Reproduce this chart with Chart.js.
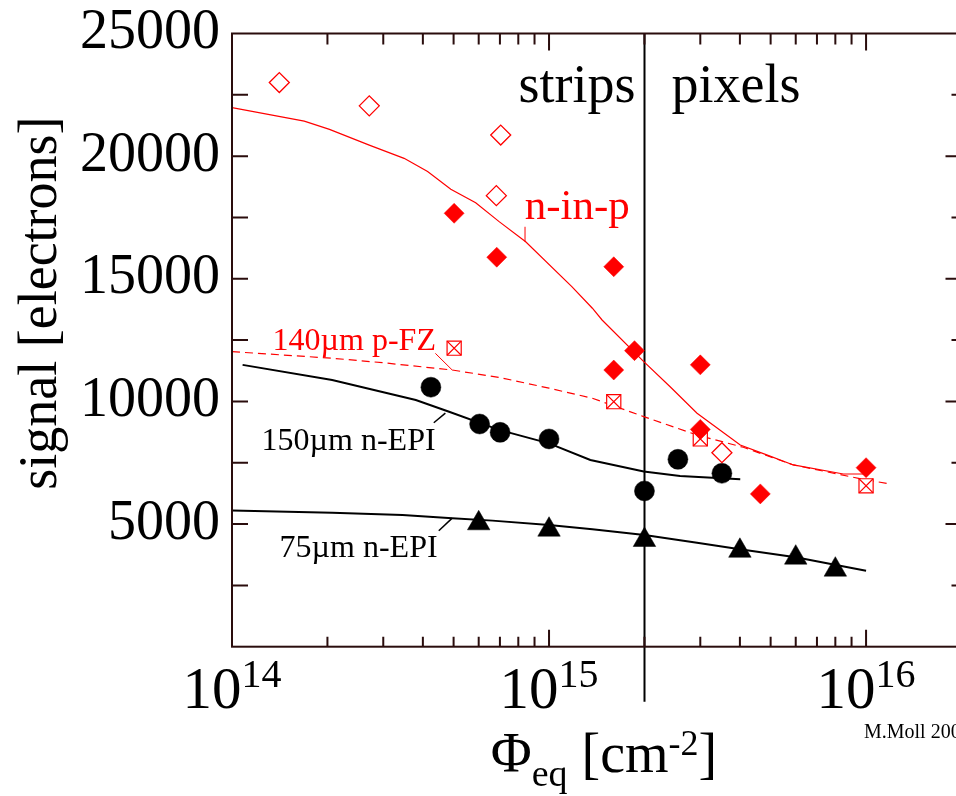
<!DOCTYPE html>
<html>
<head>
<meta charset="utf-8">
<script src="https://cdn.jsdelivr.net/npm/chart.js@4/dist/chart.umd.min.js"></script>
<style>
  html, body { margin: 0; padding: 0; overflow: hidden; background: #ffffff; }
  canvas { display: block; }
</style>
</head>
<body>
<canvas id="c" width="1000" height="796"></canvas>
<script>
// Fluence in cm^-2, signal in electrons.
// n-in-p, open symbols
const ninpOpenPhi = [1.41e14, 2.71e14, 7.04e14, 6.82e14, 3.51e15];
const ninpOpenSig = [23000, 22050, 20860, 18390, 7910];
// n-in-p, filled symbols
const ninpPhi = [5.02e14, 6.84e14, 1.6e15, 1.6e15, 1.86e15, 3.0e15, 3.0e15, 4.64e15, 1.0e16];
const ninpSig = [17670, 15880, 15490, 11280, 12070, 11490, 8860, 6230, 7300];
// 140um p-FZ
const pfzPhi = [5.02e14, 1.6e15, 3.0e15, 1.0e16];
const pfzSig = [12170, 9990, 8470, 6560];
// 150um n-EPI
const epi150Phi = [4.24e14, 6.04e14, 7.01e14, 1.0e15, 2.0e15, 2.55e15, 3.51e15];
const epi150Sig = [10580, 9080, 8740, 8470, 6350, 7640, 7070];
// 75um n-EPI
const epi75Phi = [6.0e14, 1.0e15, 2.0e15, 4.0e15, 6.0e15, 8.0e15];
const epi75Sig = [5030, 4770, 4350, 3910, 3630, 3140];

// Simulation curves
const ninpFitPhi = [1.0e14, 1.69e14, 2.03e14, 2.71e14, 3.49e14, 4.14e14, 4.9e14, 5.87e14, 6.96e14, 8.44e14, 1.18e15, 1.37e15, 1.47e15, 1.99e15, 2.41e15, 2.93e15, 4.01e15, 4.86e15, 5.9e15, 8.48e15, 1.0e16];
const ninpFitSig = [21980, 21430, 21090, 20450, 19910, 19370, 18650, 18100, 17330, 16510, 14680, 13800, 13320, 11620, 10600, 9520, 8220, 7820, 7410, 7040, 7040];
const pfzFitPhi = [1.0e14, 2.07e14, 2.98e14, 4.95e14, 6.96e14, 1.0e15, 1.37e15, 1.99e15, 2.93e15, 4.1e15, 5.9e15, 1.0e16, 1.2e16];
const pfzFitSig = [12030, 11760, 11580, 11280, 10980, 10540, 10130, 9380, 8630, 8130, 7410, 6800, 6630];
const epi150FitPhi = [1.08e14, 2.07e14, 3.8e14, 4.84e14, 6.96e14, 1.0e15, 1.35e15, 1.99e15, 2.59e15, 4.01e15];
const epi150FitSig = [11490, 10870, 10060, 9580, 8840, 8290, 7610, 7140, 6960, 6830];
const epi75FitPhi = [1.0e14, 2.07e14, 3.45e14, 4.95e14, 6.63e14, 1.0e15, 1.37e15, 2.0e15, 2.93e15, 4.0e15, 6.0e15, 1.0e16];
const epi75FitSig = [5550, 5460, 5370, 5240, 5140, 4960, 4790, 4550, 4240, 3970, 3650, 3100];

// Axis labels
const xTickExponents = [14, 15, 16];
const yTickValues = [5000, 10000, 15000, 20000, 25000];
const regionBoundary = 2e15;

const SERIF = "'Liberation Serif', 'Times New Roman', 'DejaVu Serif', serif";
const RED = '#ff0000';
const FRAME = '#2a0d0d';

const pts = (xs, ys) => xs.map((x, i) => ({ x: x, y: ys[i] }));

// Curve annotations: text anchored at left/baseline in data coordinates
const notes = [
  { text: 'n-in-p', phi: 8.38e14, sig: 17440, size: 43, color: RED,
    lead: [[8.4e14, 17120], [8.4e14, 16510]], leadWidth: 1 },
  { text: '140\u00b5m p-FZ', phi: 1.343e14, sig: 12096, size: 32, color: RED,
    lead: [[4.38e14, 11960], [4.95e14, 11280]], leadWidth: 1 },
  { text: '150\u00b5m n-EPI', phi: 1.24e14, sig: 8019, size: 32, color: '#000',
    lead: [[4.33e14, 9130], [4.71e14, 9520]], leadWidth: 1.5 },
  { text: '75\u00b5m n-EPI', phi: 1.413e14, sig: 3657, size: 32, color: '#000',
    lead: [[4.49e14, 4730], [4.95e14, 5240]], leadWidth: 1.5 }
];

const decor = {
  id: 'decor',
  beforeDatasetsDraw(chart) {
    const { ctx, chartArea: a, scales: { x: xs } } = chart;
    const xb = Math.round(xs.getPixelForValue(regionBoundary)) + 0.5;
    ctx.save();
    ctx.strokeStyle = '#000';
    ctx.lineWidth = 2;
    ctx.beginPath();
    ctx.moveTo(xb, a.top);
    ctx.lineTo(xb, a.bottom + 55);
    ctx.stroke();
    ctx.restore();
  },
  afterDatasetsDraw(chart) {
    const { ctx, chartArea: a, scales: { x: xs, y: ys } } = chart;
    ctx.save();
    ctx.strokeStyle = FRAME;
    ctx.lineWidth = 2;
    // inward tick marks
    ctx.beginPath();
    for (let d = 14; d <= 16; d++) {
      for (let k = 1; k <= 9; k++) {
        const v = k * Math.pow(10, d);
        if (v > xs.max) break;
        const px = xs.getPixelForValue(v);
        const major = k === 1;
        ctx.moveTo(px, a.bottom); ctx.lineTo(px, a.bottom - (major ? 17 : 10));
        ctx.moveTo(px, a.top); ctx.lineTo(px, a.top + (major ? 17 : 11));
      }
    }
    for (let v = 2500; v < 25000; v += 2500) {
      const py = ys.getPixelForValue(v);
      ctx.moveTo(a.left, py); ctx.lineTo(a.left + 16, py);
      ctx.moveTo(a.right, py); ctx.lineTo(a.right - (v % 5000 === 0 ? 16 : 10), py);
    }
    ctx.stroke();
    ctx.strokeRect(a.left, a.top, a.right - a.left, a.bottom - a.top);

    // curve annotations and leader lines
    for (const n of notes) {
      ctx.strokeStyle = n.color;
      ctx.lineWidth = n.leadWidth;
      ctx.beginPath();
      ctx.moveTo(xs.getPixelForValue(n.lead[0][0]), ys.getPixelForValue(n.lead[0][1]));
      ctx.lineTo(xs.getPixelForValue(n.lead[1][0]), ys.getPixelForValue(n.lead[1][1]));
      ctx.stroke();
      ctx.fillStyle = n.color;
      ctx.font = n.size + 'px ' + SERIF;
      ctx.textAlign = 'left';
      ctx.textBaseline = 'alphabetic';
      ctx.fillText(n.text, xs.getPixelForValue(n.phi), ys.getPixelForValue(n.sig));
    }

    // region labels either side of the boundary
    const xb = xs.getPixelForValue(regionBoundary);
    const yl = ys.getPixelForValue(22200);
    ctx.fillStyle = '#000';
    ctx.font = '54px ' + SERIF;
    ctx.textAlign = 'right';
    ctx.fillText('strips', xb - 9, yl);
    ctx.textAlign = 'left';
    ctx.fillText('pixels', xb + 27, yl);
    ctx.restore();
  },
  afterDraw(chart) {
    const { ctx, chartArea: a, scales: { x: xs } } = chart;
    ctx.save();
    ctx.fillStyle = '#000';
    ctx.textBaseline = 'alphabetic';
    ctx.textAlign = 'left';
    // decade labels 10^n
    for (const e of xTickExponents) {
      const px = xs.getPixelForValue(Math.pow(10, e));
      ctx.font = '59px ' + SERIF;
      const w1 = ctx.measureText('10').width;
      ctx.font = '40px ' + SERIF;
      const w2 = ctx.measureText(String(e)).width;
      const x0 = px - (w1 + w2) / 2;
      ctx.font = '59px ' + SERIF;
      ctx.fillText('10', x0, a.bottom + 61);
      ctx.font = '40px ' + SERIF;
      ctx.fillText(String(e), x0 + w1, a.bottom + 40);
    }
    // x axis title: Phi_eq [cm^-2]
    const runs = [
      ['\u03a6', 56, 0], ['eq', 38, 14], [' [cm', 56, 0], ['-2', 36, -17], [']', 56, 0]
    ];
    let total = 0;
    for (const r of runs) { ctx.font = r[1] + 'px ' + SERIF; total += ctx.measureText(r[0]).width; }
    let tx = 604 - total / 2;
    const ty = a.bottom + 125;
    for (const r of runs) {
      ctx.font = r[1] + 'px ' + SERIF;
      ctx.fillText(r[0], tx, ty + r[2]);
      tx += ctx.measureText(r[0]).width;
    }
    // y axis title
    ctx.save();
    ctx.translate(56, (a.top + a.bottom) / 2 - 37);
    ctx.rotate(-Math.PI / 2);
    ctx.textAlign = 'center';
    ctx.font = '54px ' + SERIF;
    ctx.fillText('signal [electrons]', 0, 0);
    ctx.restore();
    // credit
    ctx.font = '20px ' + SERIF;
    ctx.fillText('M.Moll 2007', xs.getPixelForValue(9.78e15) + 1, a.bottom + 91);
    ctx.restore();
  }
};

const curve = (xs, ys, color, width, dash) => ({
  data: pts(xs, ys), showLine: true, pointRadius: 0, borderColor: color,
  borderWidth: width, borderDash: dash || [], fill: false, tension: 0, order: 2
});

new Chart(document.getElementById('c'), {
  type: 'scatter',
  data: {
    datasets: [
      { data: pts(ninpOpenPhi, ninpOpenSig), pointStyle: 'rectRot', pointRadius: 10,
        backgroundColor: '#ffffff', borderColor: RED, pointBorderWidth: 1.3, order: 1 },
      { data: pts(ninpPhi, ninpSig), pointStyle: 'rectRot', pointRadius: 10,
        backgroundColor: RED, borderColor: RED, pointBorderWidth: 0.5, order: 1 },
      { data: pts(pfzPhi, pfzSig), pointStyle: 'rect', pointRadius: 10,
        backgroundColor: '#ffffff', borderColor: RED, pointBorderWidth: 1.2, order: 1 },
      { data: pts(pfzPhi, pfzSig), pointStyle: 'crossRot', pointRadius: 10,
        backgroundColor: RED, borderColor: RED, pointBorderWidth: 1.2, order: 0 },
      { data: pts(epi150Phi, epi150Sig), pointStyle: 'circle', pointRadius: 10,
        backgroundColor: '#000', borderColor: '#000', pointBorderWidth: 0.5, order: 1 },
      { data: pts(epi75Phi, epi75Sig), pointStyle: 'triangle', pointRadius: 13,
        backgroundColor: '#000', borderColor: '#000', pointBorderWidth: 0.5, order: 1 },
      curve(ninpFitPhi, ninpFitSig, RED, 1.2),
      curve(pfzFitPhi, pfzFitSig, RED, 1.2, [8, 5]),
      curve(epi150FitPhi, epi150FitSig, '#000', 2),
      curve(epi75FitPhi, epi75FitSig, '#000', 2)
    ]
  },
  options: {
    responsive: false,
    animation: false,
    devicePixelRatio: 1,
    events: [],
    layout: { padding: { top: 33.5, right: 38.5, left: 0, bottom: 0 } },
    plugins: { legend: { display: false }, tooltip: { enabled: false } },
    scales: {
      x: {
        type: 'logarithmic', min: 1e14, max: 2e16,
        grid: { display: false, drawTicks: false }, border: { display: false },
        ticks: { display: false },
        afterFit(s) { s.height = 149.3; s.paddingLeft = 0; s.paddingRight = 0; }
      },
      y: {
        min: 0, max: 25000,
        grid: { display: false, drawTicks: false }, border: { display: false },
        afterBuildTicks(s) { s.ticks = [0].concat(yTickValues).map(v => ({ value: v })); },
        ticks: {
          padding: 12, color: '#000',
          font: { family: SERIF, size: 56, lineHeight: 1 },
          callback: v => (yTickValues.includes(v) ? String(v) : '')
        },
        afterFit(s) { s.width = 232; s.paddingTop = 0; s.paddingBottom = 0; }
      }
    }
  },
  plugins: [decor]
});
</script>
</body>
</html>
